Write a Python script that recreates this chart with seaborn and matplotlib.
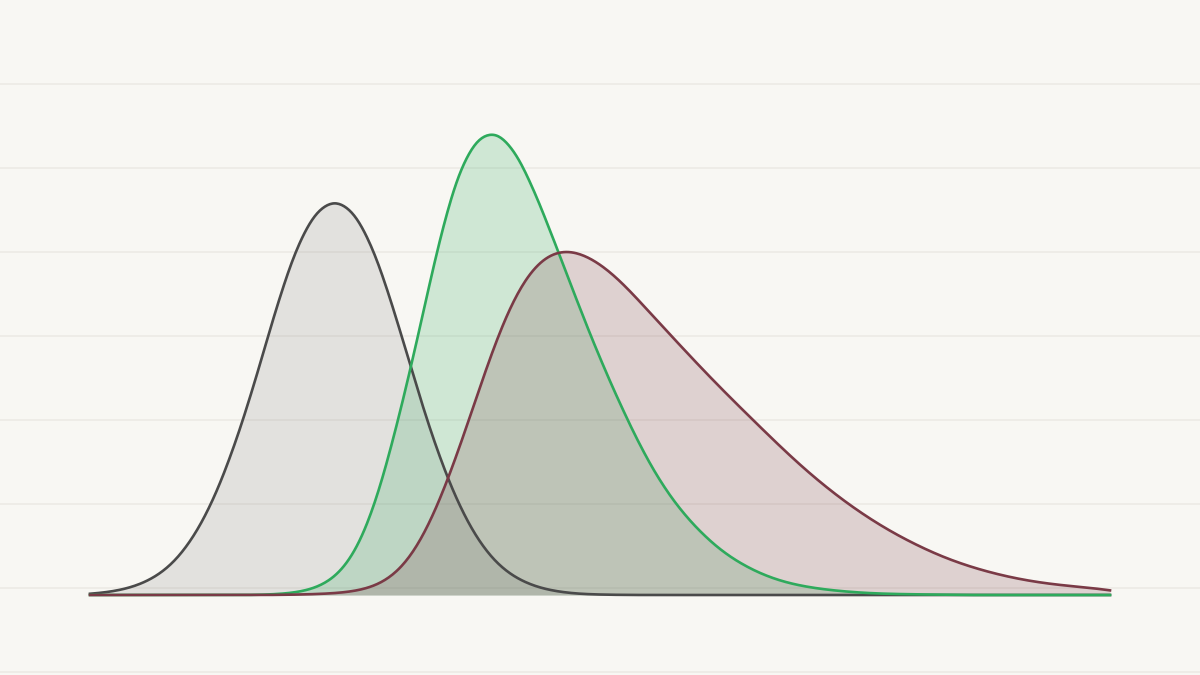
import numpy as np
import pandas as pd
import matplotlib.pyplot as plt
import seaborn as sns

# x grid shared by the three density curves
x = np.linspace(0, 10, 51)

# density values, one per x position
gray = [0.001, 0.003, 0.007, 0.015, 0.029, 0.054, 0.091, 0.143, 0.206, 0.279,
        0.344, 0.385, 0.398, 0.385, 0.343, 0.279, 0.208, 0.144, 0.092, 0.054,
        0.029, 0.015, 0.007, 0.003, 0.001, 0.0004, 0.0001, 0, 0, 0,
        0, 0, 0, 0, 0, 0, 0, 0, 0, 0,
        0, 0, 0, 0, 0, 0, 0, 0, 0, 0, 0]
green = [0, 0, 0, 0, 0, 0, 0, 0, 0, 0.0006,
         0.002, 0.006, 0.016, 0.040, 0.089, 0.165, 0.250, 0.346, 0.424, 0.461,
         0.466, 0.441, 0.394, 0.341, 0.287, 0.236, 0.190, 0.147, 0.111, 0.083,
         0.061, 0.043, 0.030, 0.020, 0.013, 0.0085, 0.0055, 0.0035, 0.002, 0.0012,
         0.0008, 0.0005, 0.0003, 0, 0, 0, 0, 0, 0, 0, 0]
maroon = [0, 0, 0, 0, 0, 0, 0, 0, 0, 0,
          0.0003, 0.0007, 0.0015, 0.003, 0.007, 0.017, 0.040, 0.083, 0.138, 0.201,
          0.265, 0.312, 0.339, 0.349, 0.345, 0.333, 0.316, 0.292, 0.270, 0.248,
          0.226, 0.205, 0.185, 0.165, 0.145, 0.126, 0.109, 0.093, 0.079, 0.066,
          0.055, 0.045, 0.036, 0.029, 0.023, 0.018, 0.014, 0.011, 0.009, 0.007, 0.006]

series = {"gray": gray, "green": green, "maroon": maroon}
line_colors = {"gray": "#4a4a4a", "green": "#2eaa5c", "maroon": "#7a3a46"}
fill_colors = {"gray": "#8c8c8c", "green": "#2eaa5c", "maroon": "#7a3a46"}
# smoothing kernel width (x units) used to draw each curve
kernel = {"gray": 0.14, "green": 0.14, "maroon": 0.2}

bg = "#f8f7f3"
rect = [0.075, 80 / 675, 0.85, 500 / 675]


def bw_factor(vals, width):
    """Turn a kernel width into the factor gaussian_kde expects"""
    w = np.asarray(vals) / np.sum(vals)
    mean = np.sum(w * x)
    var = np.sum(w * (x - mean) ** 2) / (1 - np.sum(w ** 2))
    return width / np.sqrt(var)


def draw_curve(fig, name, fill):
    """One overlaid axes per curve, scaled so the unit-area kde matches the data"""
    vals = series[name]
    df = pd.DataFrame({"x": x, "density": vals})
    area = np.sum(vals) * (x[1] - x[0])
    ax = fig.add_axes(rect)
    ax.set_facecolor("none")
    if fill:
        sns.kdeplot(data=df, x="x", weights="density", fill=True, alpha=0.2,
                    linewidth=0, color=fill_colors[name], cut=0, gridsize=800,
                    bw_method=bw_factor(vals, kernel[name]), ax=ax)
    else:
        sns.kdeplot(data=df, x="x", weights="density", linewidth=1.9,
                    color=line_colors[name], cut=0, gridsize=800, clip_on=False,
                    bw_method=bw_factor(vals, kernel[name]), ax=ax)
    ax.set_xlim(0, 10)
    ax.set_ylim(0, 0.5 / area)
    ax.axis("off")


fig = plt.figure(figsize=(12, 6.75), dpi=100, facecolor=bg)

# faint horizontal rules across the whole canvas
grid_ax = fig.add_axes([0, 0, 1, 1])
grid_ax.set_xlim(0, 1200)
grid_ax.set_ylim(675, 0)
grid_ax.hlines([84, 168, 252, 336, 420, 504, 588, 672], 0, 1200,
               color="#eceae5", linewidth=1.2)
grid_ax.axis("off")

for name in series:
    draw_curve(fig, name, fill=True)
for name in series:
    draw_curve(fig, name, fill=False)

fig.savefig("out.png", dpi=100, facecolor=bg)
